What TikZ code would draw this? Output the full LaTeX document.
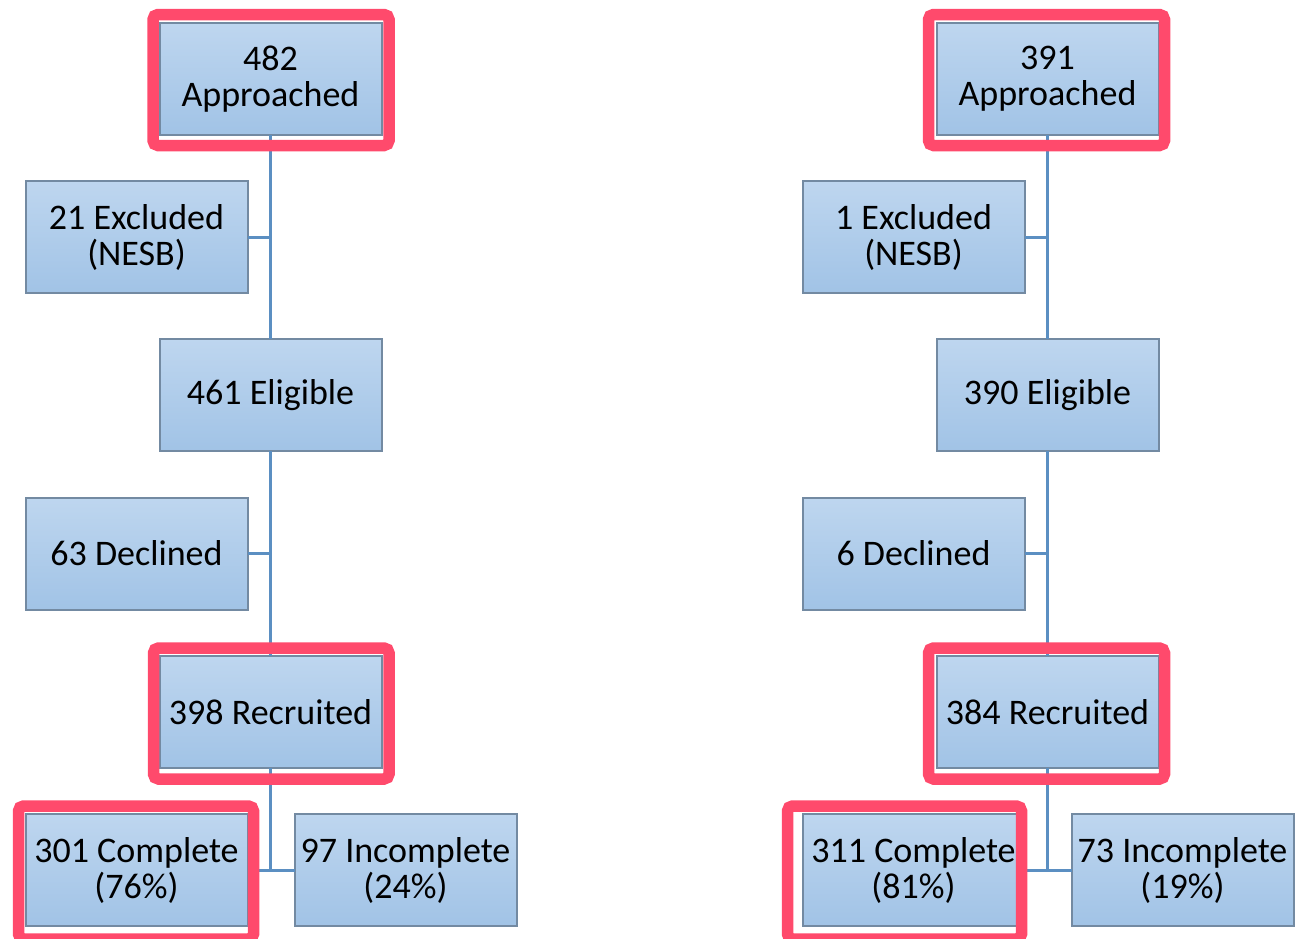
\documentclass[tikz,border=0pt]{standalone}
\usepackage{fontspec}
\setmainfont{Carlito}
\usetikzlibrary{positioning,calc}

\definecolor{boxtop}{HTML}{BED6EF}
\definecolor{boxbot}{HTML}{A1C3E6}
\definecolor{boxline}{HTML}{738AA2}
\definecolor{linkblue}{HTML}{5B8FC2}
\definecolor{hired}{HTML}{FF4A6C}

\begin{document}
\begin{tikzpicture}[x=1pt, y=-1pt,
    box/.style={draw=boxline, line width=2pt, top color=boxtop, bottom color=boxbot,
      minimum width=222pt, minimum height=112pt, inner sep=0pt, outer sep=0pt,
      align=center, font=\fontsize{36}{36}\selectfont},
    link/.style={draw=linkblue, line width=3pt},
    hilite/.style={draw=hired, line width=11.5pt, rounded corners=5pt}]
    \useasboundingbox (0,0) rectangle (1295,938);

    % left tree
    \node[box] (appL) at (270.5,79) {482\\Approached};
    \node[box] (eligL) [below=204pt of appL] {461 Eligible};
    \node[box] (recL) [below=205pt of eligL] {398 Recruited};
    \coordinate (jAL) at ($(appL.south)!0.5!(eligL.north)$);
    \coordinate (jBL) at ($(eligL.south)!0.5!(recL.north)$);
    \coordinate (jCL) at ($(recL.south)+(0,102)$);
    \node[box] (exclL) [left=23pt of jAL] {21 Excluded\\(NESB)};
    \node[box] (declL) [left=23pt of jBL] {63 Declined};
    \node[box] (compL) [left=23pt of jCL] {301 Complete\\(76\%)};
    \node[box] (incL) [right=24pt of jCL] {97 Incomplete\\(24\%)};

    % right tree
    \node[box] (appR) [right=555pt of appL] {391\\Approached};
    \node[box] (eligR) [below=204pt of appR] {390 Eligible};
    \node[box] (recR) [below=205pt of eligR] {384 Recruited};
    \coordinate (jAR) at ($(appR.south)!0.5!(eligR.north)$);
    \coordinate (jBR) at ($(eligR.south)!0.5!(recR.north)$);
    \coordinate (jCR) at ($(recR.south)+(0,102)$);
    \node[box] (exclR) [left=23pt of jAR] {1 Excluded\\(NESB)};
    \node[box] (declR) [left=23pt of jBR] {6 Declined};
    \node[box] (compR) [left=23pt of jCR] {311 Complete\\(81\%)};
    \node[box] (incR) [right=24pt of jCR] {73 Incomplete\\(19\%)};

    \draw[link] (appL) -- (eligL);
    \draw[link] (eligL) -- (recL);
    \draw[link] (recL) -- (jCL);
    \draw[link] (exclL) -- (jAL);
    \draw[link] (declL) -- (jBL);
    \draw[link] (compL) -- (incL);

    \draw[link] (appR) -- (eligR);
    \draw[link] (eligR) -- (recR);
    \draw[link] (recR) -- (jCR);
    \draw[link] (exclR) -- (jAR);
    \draw[link] (declR) -- (jBR);
    \draw[link] (compR) -- (incR);

    % highlights
    \draw[hilite] ($(appL.north west)+(-6.5,-8.5)$) rectangle ($(appL.south east)+(7.5,10.5)$);
    \draw[hilite] ($(recL.north west)+(-6,-8)$) rectangle ($(recL.south east)+(7.5,11)$);
    \draw[hilite] ($(compL.north west)+(-7,-8)$) rectangle ($(compL.south east)+(6,13)$);
    \draw[hilite] ($(appR.north west)+(-8,-8.5)$) rectangle ($(appR.south east)+(6,10.5)$);
    \draw[hilite] ($(recR.north west)+(-8,-8)$) rectangle ($(recR.south east)+(6,11)$);
    \draw[hilite] ($(compR.north west)+(-15,-8)$) rectangle ($(compR.south east)+(-3,13)$);
\end{tikzpicture}
\end{document}
